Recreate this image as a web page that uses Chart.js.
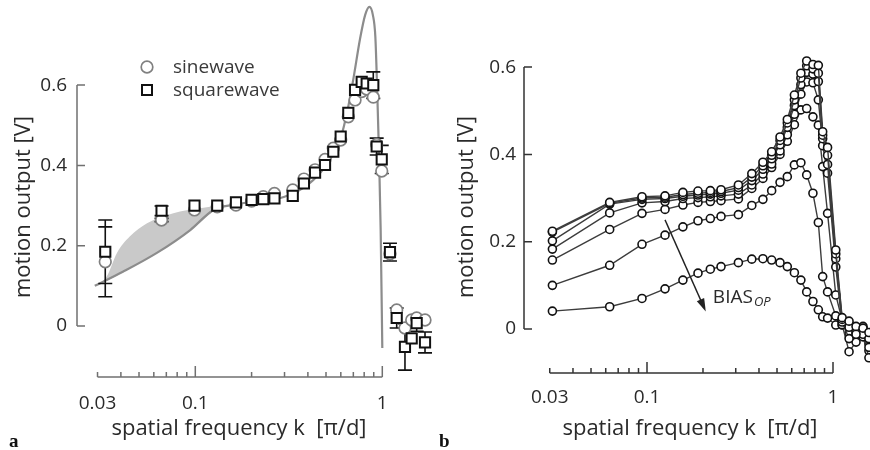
<!DOCTYPE html>
<html>
<head>
<meta charset="utf-8">
<script src="https://cdn.jsdelivr.net/npm/chart.js@4.4.1/dist/chart.umd.min.js"></script>
<style>
html, body { margin: 0; padding: 0; background: #fff; }
#wrap { position: relative; width: 870px; height: 450px; overflow: hidden; }
canvas { position: absolute; top: 0; }
#ca { left: 0; }
#cb { left: 435px; }
</style>
</head>
<body>
<div id="wrap">
  <canvas id="ca" width="435" height="450"></canvas>
  <canvas id="cb" width="435" height="450"></canvas>
</div>
<script>
// ---- panel a: measured points ----
var kA = [0.033, 0.066, 0.099, 0.131, 0.165, 0.2, 0.231, 0.265, 0.332, 0.381, 0.437, 0.494, 0.547, 0.599, 0.658, 0.715, 0.776, 0.825, 0.895, 0.933, 0.993, 1.099, 1.194, 1.322, 1.436, 1.527, 1.692];
var squareA = [0.185, 0.287, 0.300, 0.300, 0.308, 0.314, 0.316, 0.318, 0.324, 0.355, 0.382, 0.401, 0.434, 0.472, 0.531, 0.588, 0.608, 0.604, 0.600, 0.447, 0.415, 0.184, 0.020, -0.052, -0.031, 0.007, -0.041];
var sineA = [0.160, 0.264, 0.289, 0.297, 0.301, 0.311, 0.322, 0.330, 0.339, 0.366, 0.389, 0.415, 0.443, 0.463, 0.521, 0.563, 0.584, 0.590, 0.570, 0.452, 0.386, 0.180, 0.040, -0.005, 0.015, 0.020, 0.015];
var squareErr = [0.079, 0.012, 0, 0, 0, 0, 0, 0, 0, 0, 0, 0, 0, 0, 0, 0, 0, 0, 0.033, 0.021, 0.035, 0.022, 0.025, 0.058, 0, 0.02, 0.026];
var sineErr = [0.087, 0.004, 0, 0, 0, 0, 0, 0, 0, 0, 0, 0, 0, 0, 0, 0, 0, 0, 0, 0, 0, 0, 0, 0, 0, 0, 0];

// model curve and its shaded band
var modelK = [0.029, 0.041, 0.0623, 0.094, 0.125, 0.16, 0.22, 0.3, 0.4, 0.5, 0.6, 0.65, 0.7, 0.76, 0.81, 0.853, 0.89, 0.918, 0.94, 0.96, 0.98, 1.0];
var modelV = [0.100, 0.135, 0.182, 0.239, 0.289, 0.302, 0.311, 0.322, 0.352, 0.400, 0.470, 0.535, 0.615, 0.715, 0.775, 0.795, 0.775, 0.72, 0.58, 0.43, 0.24, -0.055];
var shadeK = [0.0305, 0.0336, 0.0381, 0.0446, 0.0552, 0.0763, 0.1061, 0.130];
var shadeHi = [0.104, 0.123, 0.182, 0.223, 0.256, 0.281, 0.293, 0.300];
var shadeLo = [0.104, 0.113, 0.126, 0.144, 0.168, 0.208, 0.258, 0.294];

// ---- panel b: one curve per bias setting ----
var kB = [0.031, 0.063, 0.094, 0.125, 0.156, 0.188, 0.219, 0.25, 0.31, 0.366, 0.42, 0.468, 0.519, 0.568, 0.62, 0.672, 0.722, 0.78, 0.834, 0.88, 0.935, 1.035, 1.12, 1.22, 1.33, 1.45, 1.56];
var biasA = [0.224, 0.290, 0.303, 0.305, 0.313, 0.316, 0.317, 0.319, 0.330, 0.356, 0.382, 0.406, 0.440, 0.480, 0.536, 0.586, 0.614, 0.606, 0.604, 0.452, 0.416, 0.181, 0.026, 0.018, 0.006, 0.002, -0.008];
var biasB = [0.222, 0.288, 0.300, 0.302, 0.308, 0.311, 0.313, 0.315, 0.324, 0.348, 0.374, 0.398, 0.432, 0.472, 0.525, 0.575, 0.603, 0.596, 0.586, 0.444, 0.398, 0.172, 0.022, 0.004, -0.012, 0.006, -0.022];
var biasC = [0.202, 0.286, 0.297, 0.299, 0.304, 0.307, 0.309, 0.311, 0.318, 0.340, 0.366, 0.390, 0.422, 0.462, 0.512, 0.560, 0.588, 0.584, 0.567, 0.436, 0.377, 0.161, 0.016, -0.022, -0.004, -0.012, -0.042];
var biasD = [0.183, 0.266, 0.289, 0.292, 0.299, 0.301, 0.303, 0.305, 0.309, 0.330, 0.355, 0.378, 0.408, 0.445, 0.492, 0.538, 0.566, 0.564, 0.525, 0.420, 0.357, 0.142, 0.010, -0.052, -0.030, -0.018, -0.066];
var biasE = [0.158, 0.228, 0.265, 0.274, 0.284, 0.290, 0.292, 0.294, 0.298, 0.322, 0.345, 0.370, 0.400, 0.430, 0.468, 0.502, 0.505, 0.486, 0.467, 0.372, 0.265, 0.078, 0.020, 0.006, -0.010, 0.000, -0.030];
var biasF = [0.100, 0.146, 0.194, 0.215, 0.234, 0.248, 0.253, 0.258, 0.262, 0.283, 0.297, 0.317, 0.336, 0.349, 0.376, 0.381, 0.353, 0.311, 0.244, 0.120, 0.085, 0.030, 0.018, 0.012, -0.020, -0.005, -0.050];
var biasG = [0.041, 0.051, 0.070, 0.092, 0.112, 0.128, 0.137, 0.143, 0.152, 0.160, 0.161, 0.158, 0.152, 0.143, 0.129, 0.112, 0.085, 0.063, 0.044, 0.028, 0.025, 0.009, 0.009, -0.010, -0.018, -0.010, -0.033];
var biasSeries = [biasA, biasB, biasC, biasD, biasE, biasF, biasG];

// arrow annotation (data units) in panel b
var arrowFrom = [0.125, 0.25];
var arrowTo = [0.207, 0.04];
var arrowLabelAt = [0.226, 0.059];

// ticks
var yTicks = [0, 0.2, 0.4, 0.6];
var yTickLabels = ['0', '0.2', '0.4', '0.6'];
var xTicks = [0.03, 0.1, 1];
var xTickLabels = ['0.03', '0.1', '1'];
var xMinor = [0.03, 0.04, 0.05, 0.06, 0.07, 0.08, 0.09, 0.2, 0.3, 0.4, 0.5, 0.6, 0.7, 0.8, 0.9];
var xMajor = [0.1, 1];

var FONT = "'Open Sans', sans-serif";
Chart.defaults.font.family = FONT;
Chart.defaults.color = '#2a2a2a';

function pts(k, v) {
    return k.map(function (x, i) { return { x: x, y: v[i] }; });
}

function makeScales(o) {
    return {
        x: {
            type: 'logarithmic', min: o.xmin, max: o.xmax,
            grid: { display: false, drawTicks: false }, border: { display: false },
            ticks: {
                autoSkip: false, maxRotation: 0, padding: o.xpad, font: { size: 19 },
                callback: function (v) { var i = xTicks.indexOf(v); return i < 0 ? '' : xTickLabels[i]; }
            },
            afterBuildTicks: function (s) { s.ticks = xTicks.map(function (v) { return { value: v }; }); },
            afterFit: function (s) { s.height = o.xh; s.paddingLeft = 0; s.paddingRight = 0; }
        },
        y: {
            type: 'linear', min: o.ymin, max: o.ymax,
            grid: { display: false, drawTicks: false }, border: { display: false },
            ticks: {
                padding: o.ypad, font: { size: 19 },
                callback: function (v) { var i = yTicks.indexOf(v); return i < 0 ? '' : yTickLabels[i]; }
            },
            afterBuildTicks: function (s) { s.ticks = yTicks.map(function (v) { return { value: v }; }); },
            afterFit: function (s) { s.width = o.yw; s.paddingTop = 0; s.paddingBottom = 0; }
        }
    };
}

// draws the detached axes, inward ticks, axis titles and panel letter
function axesPlugin(o) {
    return {
        id: 'axes_' + o.letter,
        afterDraw: function (chart) {
            var ctx = chart.ctx, xs = chart.scales.x, ys = chart.scales.y, area = chart.chartArea;
            ctx.save();
            ctx.strokeStyle = o.axisColor;
            ctx.lineWidth = 1.5;
            ctx.beginPath();
            var x0 = area.left;
            ctx.moveTo(x0, ys.getPixelForValue(yTicks[yTicks.length - 1]));
            ctx.lineTo(x0, ys.getPixelForValue(yTicks[0]));
            yTicks.forEach(function (v) {
                var y = ys.getPixelForValue(v);
                ctx.moveTo(x0, y); ctx.lineTo(x0 + 8, y);
            });
            var yb = area.bottom - 1;
            ctx.moveTo(xs.getPixelForValue(0.03), yb);
            ctx.lineTo(xs.getPixelForValue(1), yb);
            xMinor.forEach(function (v) {
                var x = xs.getPixelForValue(v);
                ctx.moveTo(x, yb); ctx.lineTo(x, yb - 5);
            });
            xMajor.forEach(function (v) {
                var x = xs.getPixelForValue(v);
                ctx.moveTo(x, yb); ctx.lineTo(x, yb - 11);
            });
            ctx.stroke();

            ctx.fillStyle = '#2a2a2a';
            ctx.font = '22px ' + FONT;
            ctx.textAlign = 'center';
            ctx.textBaseline = 'alphabetic';
            ctx.fillText('spatial frequency k  [\u03c0/d]', o.xTitleX, 435);
            ctx.save();
            ctx.translate(o.yTitleX, 207);
            ctx.rotate(-Math.PI / 2);
            ctx.fillText('motion output [V]', 0, 0);
            ctx.restore();

            ctx.textAlign = 'left';
            ctx.fillStyle = '#111';
            ctx.font = 'bold 19px "Liberation Serif", serif';
            ctx.fillText(o.letter, o.letterX, 447);
            ctx.restore();
        }
    };
}

// error bars, drawn right after the model curve and before the markers
var errorBars = {
    id: 'errorBars',
    afterDatasetDraw: function (chart, args) {
        if (args.index !== 2) return;
        var ctx = chart.ctx, xs = chart.scales.x, ys = chart.scales.y;
        ctx.save();
        ctx.strokeStyle = '#111';
        ctx.lineWidth = 1.6;
        ctx.beginPath();
        [[sineA, sineErr], [squareA, squareErr]].forEach(function (pair) {
            pair[0].forEach(function (v, i) {
                var e = pair[1][i];
                if (!e) return;
                var x = xs.getPixelForValue(kA[i]);
                var y1 = ys.getPixelForValue(v + e), y2 = ys.getPixelForValue(v - e);
                ctx.moveTo(x, y1); ctx.lineTo(x, y2);
                ctx.moveTo(x - 7, y1); ctx.lineTo(x + 7, y1);
                ctx.moveTo(x - 7, y2); ctx.lineTo(x + 7, y2);
            });
        });
        ctx.stroke();
        ctx.restore();
    }
};

var legendA = {
    id: 'legendA',
    afterDraw: function (chart) {
        var ctx = chart.ctx;
        ctx.save();
        ctx.lineWidth = 1.7;
        ctx.strokeStyle = '#808080';
        ctx.beginPath(); ctx.arc(147, 67, 5.8, 0, Math.PI * 2); ctx.stroke();
        ctx.lineWidth = 2;
        ctx.strokeStyle = '#111';
        ctx.strokeRect(142, 85, 10, 10);
        ctx.fillStyle = '#3a3a3a';
        ctx.font = '19px ' + FONT;
        ctx.textBaseline = 'alphabetic';
        ctx.fillText('sinewave', 173, 73);
        ctx.fillText('squarewave', 173, 96);
        ctx.restore();
    }
};

var arrowB = {
    id: 'arrowB',
    afterDatasetsDraw: function (chart) {
        var ctx = chart.ctx, xs = chart.scales.x, ys = chart.scales.y;
        var x1 = xs.getPixelForValue(arrowFrom[0]), y1 = ys.getPixelForValue(arrowFrom[1]);
        var x2 = xs.getPixelForValue(arrowTo[0]), y2 = ys.getPixelForValue(arrowTo[1]);
        var a = Math.atan2(y2 - y1, x2 - x1);
        ctx.save();
        ctx.strokeStyle = '#222';
        ctx.fillStyle = '#222';
        ctx.lineWidth = 1.4;
        ctx.beginPath();
        ctx.moveTo(x1, y1);
        ctx.lineTo(x2 - 10 * Math.cos(a), y2 - 10 * Math.sin(a));
        ctx.stroke();
        ctx.beginPath();
        ctx.moveTo(x2, y2);
        ctx.lineTo(x2 - 13 * Math.cos(a) + 4 * Math.sin(a), y2 - 13 * Math.sin(a) - 4 * Math.cos(a));
        ctx.lineTo(x2 - 13 * Math.cos(a) - 4 * Math.sin(a), y2 - 13 * Math.sin(a) + 4 * Math.cos(a));
        ctx.closePath();
        ctx.fill();
        var lx = xs.getPixelForValue(arrowLabelAt[0]), ly = ys.getPixelForValue(arrowLabelAt[1]);
        ctx.fillStyle = '#2a2a2a';
        ctx.font = '19px ' + FONT;
        ctx.textBaseline = 'alphabetic';
        ctx.fillText('BIAS', lx, ly);
        var w = ctx.measureText('BIAS').width;
        ctx.font = 'italic 13px ' + FONT;
        ctx.fillText('OP', lx + w + 1, ly + 3);
        ctx.restore();
    }
};

// panel a  (lower "order" is drawn on top)
new Chart(document.getElementById('ca').getContext('2d'), {
    type: 'line',
    data: {
        datasets: [
            { order: 5, data: pts(shadeK, shadeHi), borderWidth: 0, pointRadius: 0, fill: '+1', backgroundColor: '#c9c9c9', cubicInterpolationMode: 'monotone' },
            { order: 4, data: pts(shadeK, shadeLo), borderWidth: 0, pointRadius: 0, fill: false, cubicInterpolationMode: 'monotone' },
            { order: 3, data: pts(modelK, modelV), borderColor: '#8c8c8c', borderWidth: 2.2, pointRadius: 0, fill: false, cubicInterpolationMode: 'monotone' },
            { order: 2, data: pts(kA, sineA), showLine: false, pointStyle: 'circle', pointRadius: 5.8, pointBorderWidth: 1.7, pointBorderColor: '#808080', pointBackgroundColor: '#fff' },
            { order: 1, data: pts(kA, squareA), showLine: false, pointStyle: 'rect', pointRadius: 7.2, pointBorderWidth: 2, pointBorderColor: '#111', pointBackgroundColor: '#fff' }
        ]
    },
    options: {
        responsive: false, animation: false,
        layout: { padding: 0, autoPadding: false },
        plugins: { legend: { display: false }, tooltip: { enabled: false } },
        scales: makeScales({
            xmin: Math.pow(10, (77 - 382.3) / 187), xmax: Math.pow(10, (435 - 382.3) / 187), xh: 72, xpad: 14,
            ymin: -52 / 401.5, ymax: 326 / 401.5, yw: 77, ypad: 10
        })
    },
    plugins: [errorBars, legendA, axesPlugin({ letter: 'a', letterX: 9, axisColor: '#707070', xTitleX: 239, yTitleX: 30 })]
});

// panel b
new Chart(document.getElementById('cb').getContext('2d'), {
    type: 'line',
    data: {
        datasets: biasSeries.map(function (s) {
            return {
                data: pts(kB, s), borderColor: '#3c3c3c', borderWidth: 1.4,
                pointRadius: 4, pointBorderWidth: 1.6, pointBorderColor: '#111', pointBackgroundColor: '#fff', fill: false
            };
        })
    },
    options: {
        responsive: false, animation: false,
        layout: { padding: 0, autoPadding: false },
        plugins: { legend: { display: false }, tooltip: { enabled: false } },
        scales: makeScales({
            xmin: Math.pow(10, (89 - 398) / 186), xmax: Math.pow(10, (435 - 398) / 186), xh: 76, xpad: 12,
            ymin: -45 / 436.5, ymax: 329 / 436.5, yw: 89, ypad: 8
        })
    },
    plugins: [arrowB, axesPlugin({ letter: 'b', letterX: 4, axisColor: '#333', xTitleX: 255, yTitleX: 38 })]
});
</script>
</body>
</html>
